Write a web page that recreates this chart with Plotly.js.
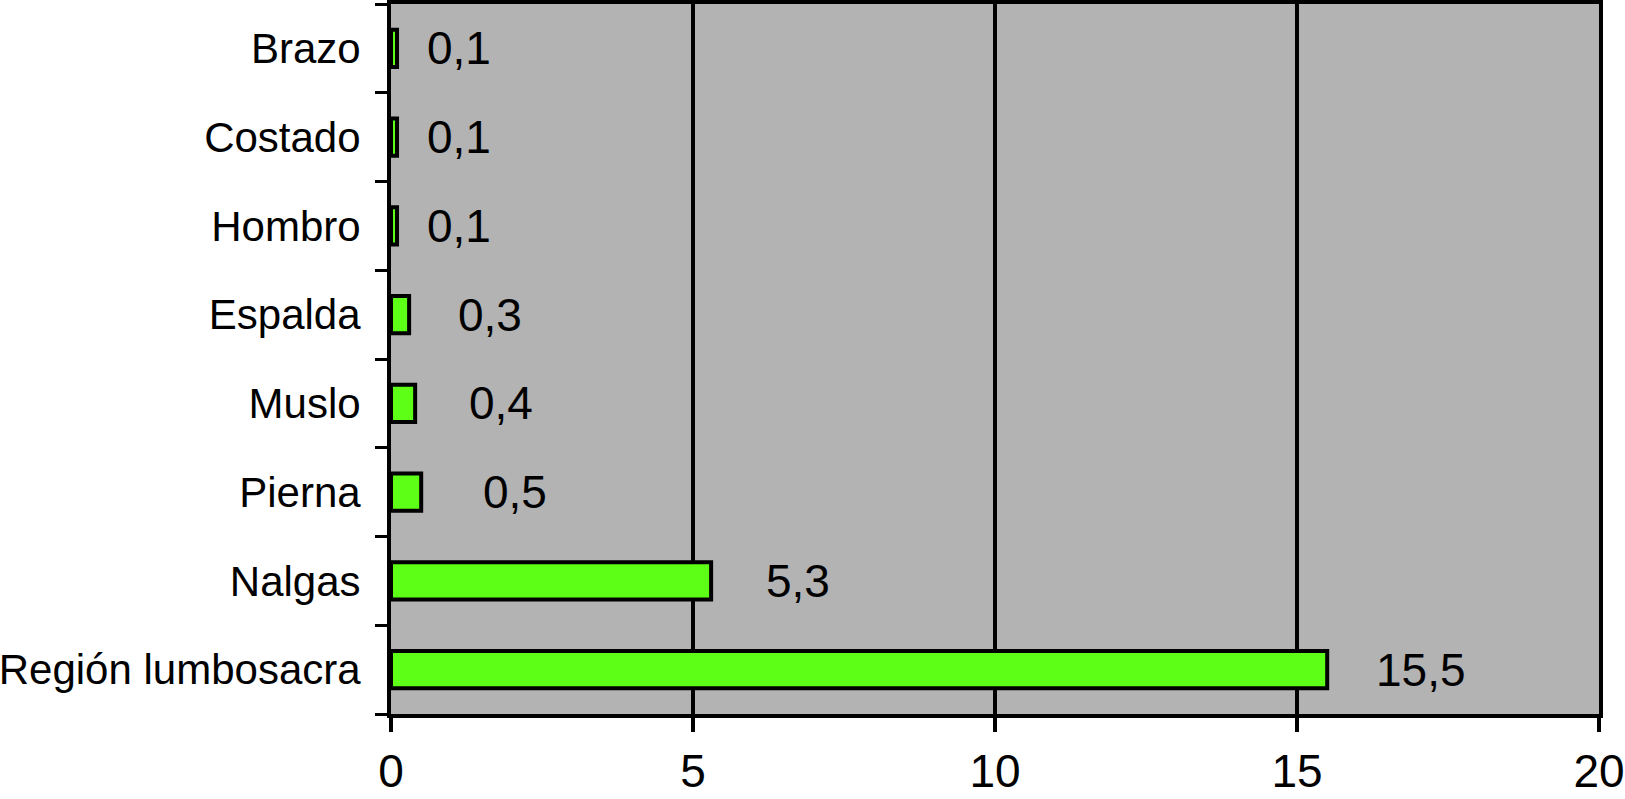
<!DOCTYPE html>
<html>
<head>
<meta charset="utf-8">
<script src="https://cdn.plot.ly/plotly-3.0.1.min.js"></script>
<style>
  html, body { margin: 0; padding: 0; background: #ffffff; }
  #chart { width: 1625px; height: 799px; }
</style>
</head>
<body>
<div id="chart"></div>
<script>
// categories bottom to top, as drawn
var regions = ['Región lumbosacra', 'Nalgas', 'Pierna', 'Muslo', 'Espalda', 'Hombro', 'Costado', 'Brazo'];
var values = [15.5, 5.3, 0.5, 0.4, 0.3, 0.1, 0.1, 0.1];
var valueText = ['15,5', '5,3', '0,5', '0,4', '0,3', '0,1', '0,1', '0,1'];
var xTicks = [0, 5, 10, 15, 20];

// gap between bar end and its label (px), the original is a bit uneven
var labelPad = [47, 53, 60, 52, 47, 28, 28, 28];

var fontName = 'Liberation Sans, Arial, sans-serif';

var trace = {
    type: 'bar',
    orientation: 'h',
    x: values,
    y: regions,
    width: 0.42,
    marker: {
        color: '#5eff17',
        line: { color: '#000000', width: 4 }
    },
    hoverinfo: 'none'
};

// value labels placed from the data with a pixel shift
var annots = [];
for (var i = 0; i < values.length; i++) {
    annots.push({
        x: values[i],
        y: regions[i],
        xref: 'x',
        yref: 'y',
        text: valueText[i],
        showarrow: false,
        xanchor: 'left',
        yanchor: 'middle',
        xshift: labelPad[i],
        font: { family: fontName, size: 46, color: '#000000' }
    });
}

var layout = {
    width: 1625,
    height: 799,
    margin: { l: 391, r: 26, t: 4, b: 85 },
    paper_bgcolor: '#ffffff',
    plot_bgcolor: '#b3b3b3',
    showlegend: false,
    bargap: 0.58,
    font: { family: fontName, color: '#000000' },
    xaxis: {
        range: [0, 20],
        tickvals: xTicks,
        ticktext: xTicks.map(String),
        showgrid: true,
        gridcolor: '#000000',
        gridwidth: 4,
        zeroline: false,
        showline: true,
        linecolor: '#000000',
        linewidth: 4,
        mirror: true,
        ticks: 'outside',
        ticklen: 14,
        tickwidth: 4,
        tickcolor: '#000000',
        tickfont: { family: fontName, size: 46, color: '#000000' },
        ticklabelstandoff: 0,
        fixedrange: true
    },
    yaxis: {
        type: 'category',
        categoryorder: 'array',
        categoryarray: regions,
        tickson: 'boundaries',
        showgrid: false,
        zeroline: false,
        showline: true,
        linecolor: '#000000',
        linewidth: 4,
        mirror: true,
        ticks: 'outside',
        ticklen: 12,
        tickwidth: 3,
        tickcolor: '#000000',
        tickfont: { family: fontName, size: 42, color: '#000000' },
        ticklabelstandoff: 18,
        fixedrange: true
    },
    annotations: annots
};

Plotly.newPlot('chart', [trace], layout, { displayModeBar: false, staticPlot: true });
</script>
</body>
</html>
